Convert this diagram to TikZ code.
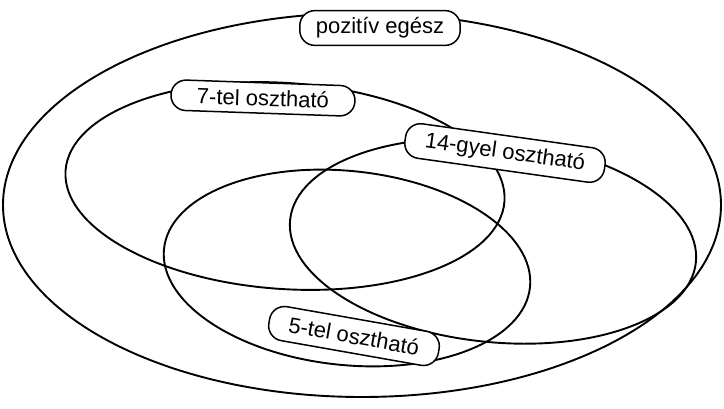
\documentclass[tikz,border=0pt]{standalone}
\usepackage{fontspec}
\setmainfont{Liberation Sans}
\begin{document}
\begin{tikzpicture}[x=1pt,y=1pt,
  setline/.style={line width=1.9pt},
  lbl/.style={draw, line width=1.5pt, fill=white, rounded corners=15pt, inner xsep=13pt, inner ysep=7pt, font=\fontsize{22}{25}\selectfont}]
\useasboundingbox (0,0) rectangle (724,408);
\draw[setline] (362,203) ellipse [x radius=359, y radius=192];
\draw[setline, rotate around={-4:(285,222)}] (285,222) ellipse [x radius=220, y radius=103];
\draw[setline, rotate around={-6:(493,167)}] (493,167) ellipse [x radius=204, y radius=101];
\draw[setline, rotate around={-6:(347,140)}] (347,140) ellipse [x radius=184, y radius=97];
\node[lbl, inner xsep=16pt] (pe) at (380,380) {pozitív egész};
\node[lbl, rotate=-2, inner xsep=26pt] (h7) at (263,310) {7-tel osztható};
\node[lbl, rotate=-8, inner xsep=20pt] (h14) at (505,255) {14-gyel osztható};
\node[lbl, rotate=-10, inner xsep=20pt, inner ysep=9pt] (h5) at (354,72) {5-tel osztható};
\end{tikzpicture}
\end{document}
